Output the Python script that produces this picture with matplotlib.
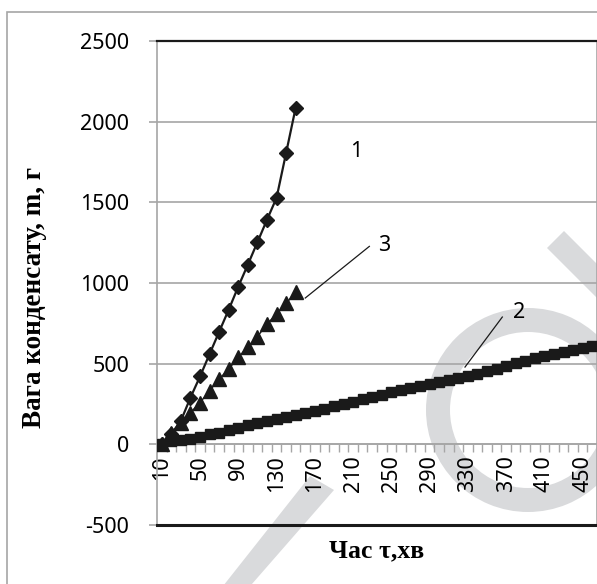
import matplotlib.pyplot as plt
import numpy as np
from matplotlib.patches import Rectangle, Wedge, Polygon
from matplotlib.transforms import IdentityTransform

# Time, min (category axis)
minutes = list(range(10, 470, 10))

# Condensate mass, g
mass_1 = [0, 65, 146, 290, 421, 560, 698, 835, 978, 1114, 1253, 1392, 1528, 1807, 2087]
mass_3 = [0, 73, 132, 197, 259, 332, 405, 467, 539, 605, 667, 746, 808, 874, 942]
mass_2 = [0, 22, 26, 36, 48, 63, 73, 88, 104, 119, 132, 146, 158, 171, 183, 197,
          208, 222, 235, 249, 264, 281, 293, 307, 322, 336, 351, 363, 376, 388, 400,
          411, 425, 439, 456, 470, 487, 502, 518, 533, 547, 560, 572, 585, 597, 607]

plt.rcParams["axes.unicode_minus"] = False

tick_font = "Noto Sans"
label_font = "Liberation Serif"
grid_gray = "#a6a6a6"
ink = "#1a1a1a"
wm_gray = "#d9dadc"

W, H = 597, 584
fig = plt.figure(figsize=(W / 100, H / 100), dpi=100)
fig.patch.set_facecolor("white")

ax = fig.add_axes([157 / W, 1 - 525 / H, 440 / W, 484 / H])
ax.set_facecolor("none")

# light background watermark (pixel coordinates, y from top)
def px(pts):
    return [(x, H - y) for x, y in pts]

wm = [
    Wedge((528, H - 410), 102, 0, 360, width=24),
    Polygon(px([(547, 248), (564, 231), (615, 282), (598, 299)])),
    Polygon(px([(212, 600), (238, 600), (334, 490), (310, 476)])),
]
for p in wm:
    p.set_transform(IdentityTransform())
    p.set_facecolor(wm_gray)
    p.set_edgecolor("none")
    p.set_zorder(-2)
    fig.add_artist(p)

# outer chart border
fig.add_artist(Rectangle((7, -5), 700, H - 12 + 5, transform=IdentityTransform(),
                         fill=False, edgecolor=grid_gray, lw=1.2, zorder=-1))

x_all = np.arange(len(minutes))
ax.plot(x_all[:len(mass_1)], mass_1, color=ink, lw=1.6, marker="D", ms=7.4, zorder=5)
ax.plot(x_all[:len(mass_3)], mass_3, color=ink, lw=1.0, marker="^", ms=9.6, zorder=5)
ax.plot(x_all, mass_2, color=ink, lw=1.0, marker="s", ms=7.0, zorder=5)

ax.set_xlim(-0.5, len(minutes) - 0.5)
ax.set_ylim(-500, 2500)

# horizontal gridlines
ax.set_yticks(np.arange(-500, 2501, 500))
ax.yaxis.grid(True, color=grid_gray, lw=1.2)
ax.set_axisbelow(True)

# category axis sits at zero
ax.spines["bottom"].set_position(("data", 0))
for side in ("bottom", "left", "right"):
    ax.spines[side].set_color(grid_gray)
    ax.spines[side].set_linewidth(1.2)
ax.spines["top"].set_color(ink)
ax.spines["top"].set_linewidth(1.6)
ax.axhline(-500, color=ink, lw=2.2, clip_on=False, zorder=3)

ax.set_xticks(x_all[::4])
ax.set_xticklabels([str(m) for m in minutes[::4]], rotation=90,
                   fontfamily=tick_font, fontsize=15.5)
ax.set_xticks(np.arange(-0.5, len(minutes), 1), minor=True)
ax.tick_params(axis="x", which="major", length=0, pad=8)
ax.tick_params(axis="x", which="minor", length=6, width=1, color=grid_gray)

ax.tick_params(axis="y", length=6, width=1.2, color=grid_gray, pad=14)
for t in ax.get_yticklabels():
    t.set_fontfamily(tick_font)
    t.set_fontsize(15.5)

ax.set_ylabel("Вага конденсату, m, г", fontfamily=label_font,
              fontweight="bold", fontsize=19.5)
ax.yaxis.set_label_coords(-0.25, 0.47)
ax.text(0.5, -0.054, "Час τ,хв", transform=ax.transAxes, ha="center", va="center",
        fontfamily=label_font, fontweight="bold", fontsize=18.5)

# curve numbers with leader lines
num_kw = dict(fontfamily=tick_font, fontsize=15.5, ha="center", va="center")
ax.text(20.3, 1812, "1", **num_kw)
ax.text(23.3, 1235, "3", **num_kw)
ax.plot([15.0, 21.7], [907, 1227], color=ink, lw=0.9)
ax.text(37.4, 820, "2", **num_kw)
ax.plot([31.7, 35.6], [479, 789], color=ink, lw=0.9)

fig.savefig("out.png", dpi=100)
